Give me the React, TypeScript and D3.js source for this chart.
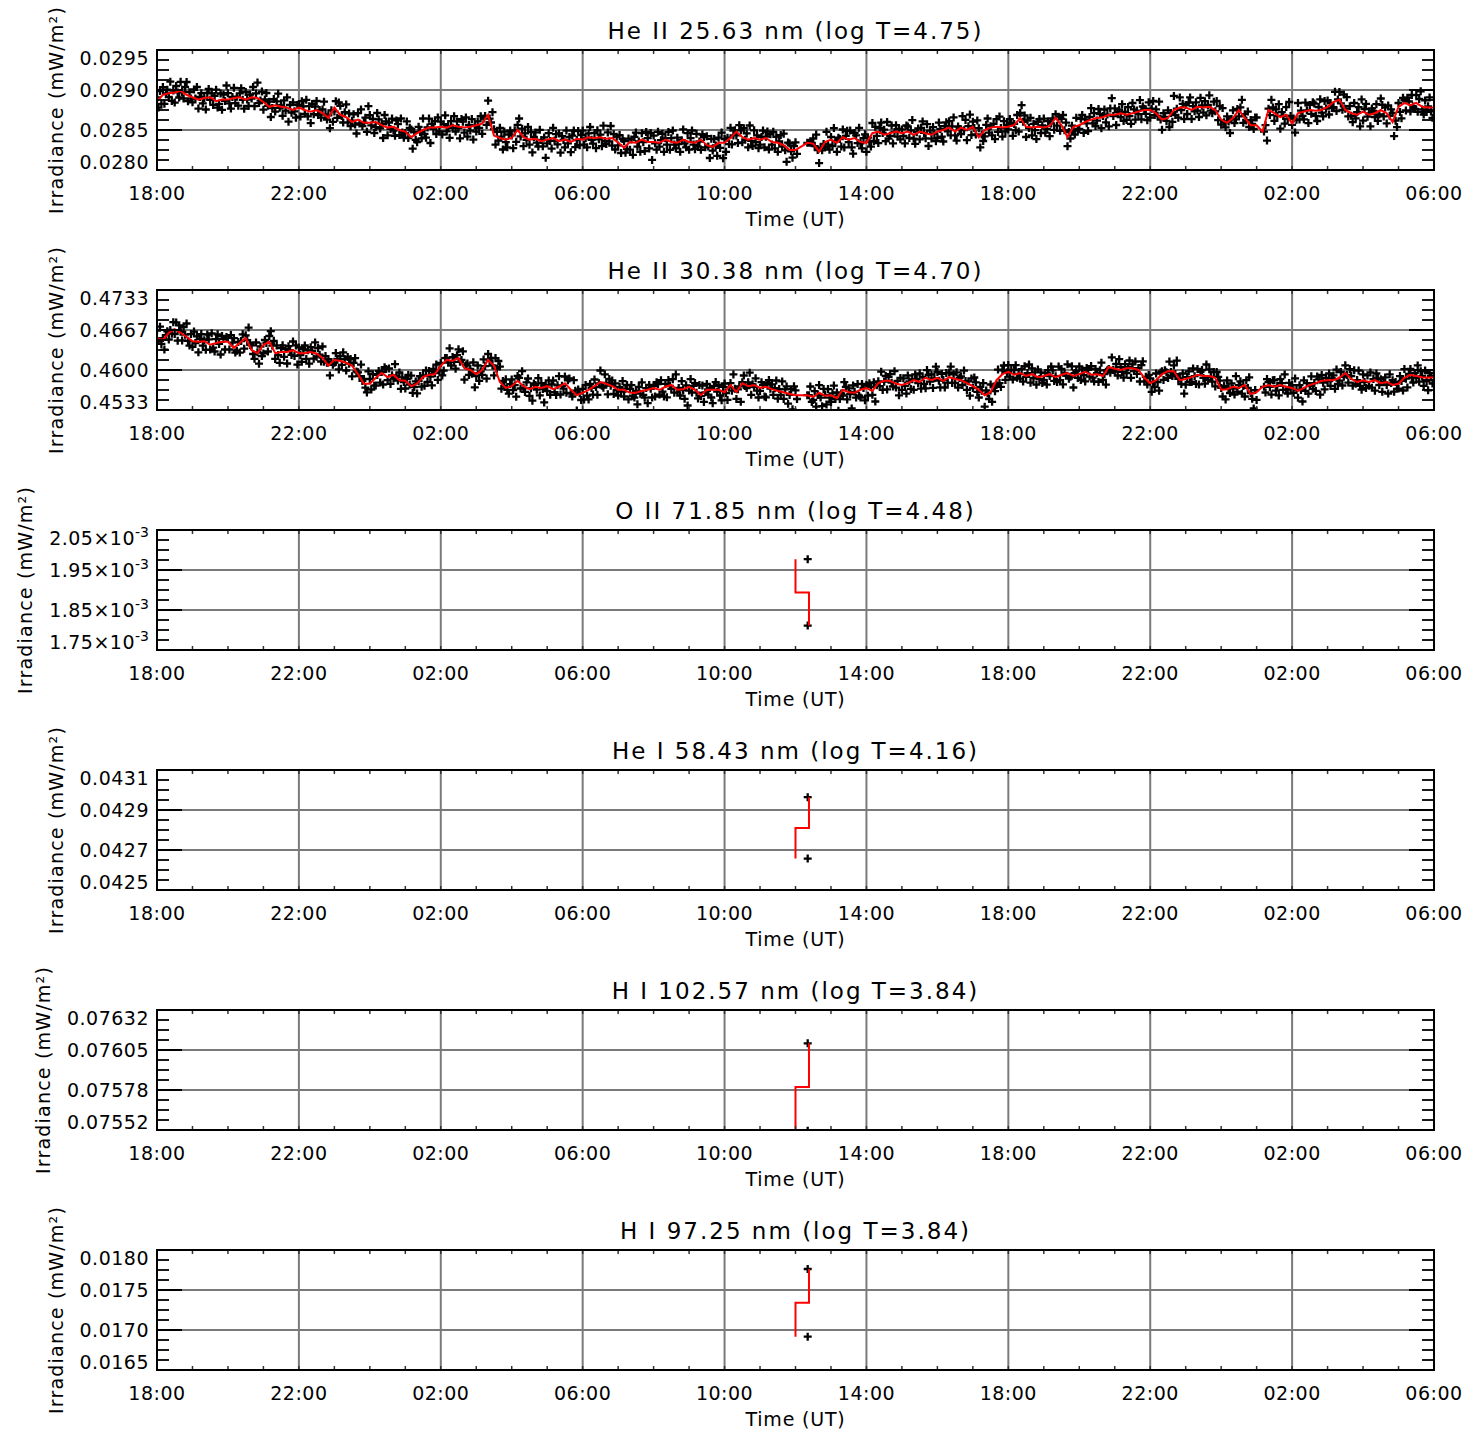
import React from "react";
import * as d3 from "d3";

// ---------- layout ----------
const W = 1481;
const H = 1435;
const PLOT_LEFT = 157;
const PLOT_RIGHT = 1434;
const PLOT_H = 120;
const FIRST_TOP = 50;
const PANEL_STEP = 240;
const FONT = '"DejaVu Sans", sans-serif';

// ---------- time axis (hours since 18:00 UT on the first day) ----------
const TIME_DOMAIN_H = [0, 36];
const TIME_TICK_HOURS = [0, 4, 8, 12, 16, 20, 24, 28, 32, 36];
const TIME_TICK_LABELS = ["18:00", "22:00", "02:00", "06:00", "10:00", "14:00", "18:00", "22:00", "02:00", "06:00"];
const RED_STEP_H = 1 / 6; // smoothed curve sampled every 10 min
const SCATTER_PER_STEP = 4; // measurements every 2.5 min
const DATA_GAPS_H = [[18.05, 18.3], [31.04, 31.2]];

// ---------- He II 25.63 nm (smoothed curve in units of 1e-5 mW/m^2, scatter offsets in units of 1.6e-5) ----------
const HE2_256_TICKS = ["0.0280", "0.0285", "0.0290", "0.0295"];
const HE2_256_DOMAIN = [0.028, 0.0295];
const HE2_256_RED = [
  2886, 2894, 2896, 2897, 2899, 2894,
  2891, 2888, 2890, 2891, 2886, 2888,
  2888, 2890, 2891, 2888, 2891, 2890,
  2885, 2879, 2881, 2879, 2878, 2875,
  2878, 2875, 2873, 2875, 2871, 2865,
  2878, 2869, 2866, 2860, 2863, 2859,
  2859, 2860, 2856, 2853, 2854, 2850,
  2848, 2841, 2846, 2850, 2853, 2853,
  2854, 2853, 2856, 2854, 2853, 2854,
  2856, 2858, 2869, 2843, 2840, 2838,
  2840, 2850, 2841, 2838, 2839, 2836,
  2838, 2840, 2836, 2838, 2835, 2839,
  2838, 2841, 2840, 2841, 2839, 2840,
  2834, 2828, 2835, 2834, 2838, 2835,
  2835, 2834, 2838, 2835, 2834, 2838,
  2835, 2834, 2838, 2831, 2829, 2834,
  2834, 2840, 2848, 2841, 2838, 2840,
  2838, 2840, 2835, 2834, 2831, 2825,
  2825, null, 2834, 2833, 2823, 2835,
  2838, 2834, 2841, 2838, 2840, 2835,
  2834, 2846, 2848, 2844, 2846, 2848,
  2846, 2848, 2844, 2848, 2846, 2844,
  2848, 2850, 2853, 2848, 2853, 2850,
  2854, 2841, 2850, 2853, 2854, 2853,
  2854, 2856, 2865, 2854, 2853, 2854,
  2853, 2855, 2865, 2856, 2841, 2854,
  2856, 2860, 2863, 2865, 2866, 2869,
  2869, 2871, 2869, 2871, 2873, 2875,
  2875, 2871, 2863, 2865, 2875, 2878,
  2878, 2875, 2879, 2878, 2879, 2875,
  2863, 2859, 2865, 2875, 2865, 2856,
  2856, 2848, 2875, 2871, 2866, 2869,
  2858, 2871, 2873, 2875, 2874, 2875,
  2879, 2885, 2888, 2875, 2871, 2869,
  2873, 2869, 2871, 2875, 2871, 2860,
  2879, 2884, 2881, 2884, 2879, 2878,
  2878,
];
const HE2_256_RES = [
  3, -5, 8, -2, 6, -7, 1, 4, -3, 9, -6, 2, -8, 5, 0, -4, 7, -1, -6, 3, 10, -5, 2, -3,
  -4, 6, -1, 8, -7, 2, 5, -3, 0, -9, 4, 7, -2, 3, -6, 1, 9, -5, -2, 6, -8, 4, -1, 11,
  5, -3, -7, 2, 8, -4, 1, -6, 3, 7, -2, -9, 6, 0, -5, 4, -1, 8, -7, 3, 12, -4, -2, 5,
  -6, 2, 7, -3, 4, -8, -1, 6, -5, 3, 9, -2, 1, -7, 5, -3, 8, -11, 2, -4, 6, -1, -6, 4,
  2, -7, 5, 1, -3, 8, -5, 3, -9, 6, -2, 4, 7, -4, 0, -6, 3, 9, -1, -5, 2, -8, 6, -3,
  -3, 5, -8, 4, 7, -1, -6, 2, 10, -4, 3, -7, 1, 6, -2, -9, 5, -3, 8, -5, 0, 4, -7, 13,
  6, -2, 3, -8, -4, 7, 2, -5, 1, -10, 8, 3, -6, 4, -1, 7, -3, -7, 5, 2, -4, 9, -2, -6,
  -1, 8, -5, 3, 6, -9, 4, -2, -7, 5, 1, -4, 9, -3, -6, 2, 7, -12, 3, -1, 5, -5, 8, -3,
  4, -6, 2, 9, -3, 1, -8, 5, -2, 7, -5, 3, -1, -9, 6, 4, -4, 8, -7, 2, -3, 6, -10, 1,
  -5, 3, -2, 7, -8, 4, 6, -1, 11, -3, -6, 2, 5, -7, 3, -4, 8, 1, -9, 5, -2, -6, 4, 7,
  2, -8, 6, -3, 4, 9, -5, 1, -7, 3, -2, 8, -4, 6, -10, 2, 5, -3, -6, 7, 1, -4, 3, -13,
  -3, 5, -1, -7, 8, -2, 3, -5, 6, -9, 4, 1, -6, 7, -3, 2, -8, 5, 9, -4, -1, 6, -5, 3,
  7, -4, 1, -6, 3, 8, -2, -5, 4, -8, 6, -1, 2, -7, 9, -3, -4, 5, -2, 10, -6, 3, -9, 1,
  -2, 6, -8, 3, 5, -4, -1, 7, -6, 2, -10, 4, 8, -3, 1, -7, 5, -2, -9, 6, 3, -5, 7, -14,
  5, -1, -6, 8, -3, 2, 7, -7, 1, -4, 6, -8, 3, 9, -2, -5, 4, -1, -7, 2, 8, -3, -6, 5,
  -6, 3, 9, -2, -5, 7, -3, 1, -8, 4, 2, -6, 7, -1, -10, 5, -3, 6, 1, -7, 4, -4, 8, -12,
  3, -7, 4, -1, 8, -5, 2, 6, -3, -9, 5, 1, -4, 7, -2, 3, -6, 11, -1, -5, 6, -3, 2, -8,
  -4, 2, 7, -6, 1, 5, -9, 3, -2, 8, -5, 4, -7, 1, 6, -3, 9, -4, -13, 2, 5, -1, -6, 3,
  6, -3, 5, -8, 0, 0, 0, 0, 0, 0, 0, 0, 4, -2, 7, -5, -9, 3, 1, 6, -4, 8, -2, -6,
  2, -5, 9, -1, -7, 4, 3, -3, 6, -8, 1, 5, -2, 7, -6, -11, 4, 2, -4, 8, -1, -5, 3, 6,
  -7, 4, 1, -3, 8, -6, 5, -2, -9, 3, 7, -1, 4, -5, 10, -3, -2, 6, -8, 1, 5, -4, 2, -6,
  3, -2, -8, 6, 4, -5, 1, 9, -3, -7, 2, 5, -6, 3, 8, -1, -4, 7, -10, 2, -3, 6, 1, -5,
  -5, 7, 2, -4, -9, 3, 6, -1, 5, -6, 1, 8, -3, -7, 4, 2, -5, 9, -2, 6, -8, 3, 12, -4,
  4, -1, -6, 5, 7, -8, 2, -3, -5, 4, 9, -2, 1, -6, 3, -9, 6, -4, 8, -1, -7, 5, -3, 2,
  -2, 6, 3, -7, 1, -4, 8, -5, 4, 10, -3, 2, -8, 5, -1, 7, -6, 3, -2, -9, 4, 6, -5, 1,
  7, -4, -1, 5, -8, 2, 6, -3, 3, -6, 1, -10, 5, 8, -4, 2, -7, 4, -1, 9, -3, -6, 7, -2,
  -3, 5, 8, -6, 2, -1, -7, 4, 9, -3, 5, -5, -2, 7, 3, -8, 1, 6, -4, 2, -9, 5, 13, -1,
  5, -8, 2, 4, -3, 7, -6, 1, -4, 6, -1, -7, 8, 3, -5, 2, -2, 9, -6, 4, 1, -3, -8, 6,
  -6, 1, 7, -4, 3, -2, 9, -5, -8, 5, 2, -1, 6, -7, 4, -3, 11, -4, 1, -6, 8, -2, 3, -9,
  2, -5, 4, 8, -7, 3, -1, 6, -3, -8, 7, 1, -4, 5, -6, 2, 9, -3, -5, 4, -1, 7, -8, 3,
  -4, 9, -2, -6, 5, 1, -8, 3, 6, -4, -1, 7, -5, 2, 8, -10, 3, -2, 5, -7, 4, 1, -3, 6,
  6, -3, 0, 0, 0, 0, 5, -7, 1, -4, 8, 2, -6, 3, -2, 7, -9, 4, 1, -5, 6, -3, 10, -1,
  -1, 4, -7, 3, 8, -5, 2, -2, -6, 7, 1, -9, 4, -3, 6, 5, -4, -8, 3, 9, -2, -5, 7, 1,
  5, -6, 3, -1, -4, 8, -7, 2, 6, -3, -8, 4, 1, 10, -5, 3, -2, -7, 8, -4, 2, 6, -9, 12,
  -7, 2, 6, -4, 1, -9, 5, 3, -3, 7, -6, -1, 9, 4, -5, 2, -8, 6, -2, 3, 7, -11, 1, -4,
  3, -4, -9, 7, 2, -6, 4, 1, -5, 8, -1, -3, 6, -7, 3, 9, -2, -6, 5, -4, 1, 8, -3, -8,
];

// ---------- He II 30.38 nm (smoothed curve in units of 1e-4 mW/m^2, scatter offsets in units of 1.6e-4) ----------
const HE2_304_TICKS = ["0.4533", "0.4600", "0.4667", "0.4733"];
const HE2_304_DOMAIN = [0.45333, 0.47333];
const HE2_304_RED = [
  4653, 4650, 4662, 4668, 4662, 4655,
  4648, 4647, 4648, 4642, 4645, 4647,
  4647, 4637, 4645, 4653, 4633, 4628,
  4642, 4647, 4628, 4630, 4630, 4633,
  4628, 4628, 4630, 4627, 4620, 4607,
  4617, 4615, 4612, 4607, 4593, 4577,
  4577, 4587, 4595, 4588, 4592, 4583,
  4582, 4573, 4577, 4588, 4592, 4593,
  4607, 4617, 4615, 4620, 4603, 4600,
  4593, 4600, 4617, 4607, 4580, 4570,
  4573, 4582, 4573, 4568, 4572, 4570,
  4573, 4568, 4572, 4578, 4567, 4558,
  4562, 4567, 4573, 4580, 4577, 4573,
  4567, 4567, 4562, 4562, 4565, 4567,
  4570, 4567, 4572, 4575, 4567, 4568,
  4572, 4567, 4558, 4567, 4567, 4567,
  4563, 4575, 4563, 4578, 4573, 4575,
  4570, 4572, 4568, 4565, 4563, 4560,
  4558, null, 4558, 4555, 4562, 4557,
  4558, 4553, 4567, 4563, 4562, 4567,
  4570, 4565, 4578, 4582, 4582, 4577,
  4575, 4578, 4583, 4580, 4587, 4583,
  4587, 4582, 4588, 4585, 4583, 4578,
  4573, 4567, 4558, 4563, 4583, 4593,
  4597, 4592, 4595, 4590, 4593, 4588,
  4590, 4593, 4588, 4592, 4595, 4590,
  4593, 4597, 4592, 4593, 4590, 4605,
  4602, 4600, 4603, 4603, 4600, 4587,
  4578, 4583, 4593, 4598, 4598, 4583,
  4585, 4588, 4592, 4590, 4590, 4587,
  4567, 4568, 4572, 4570, 4575, 4560,
  4563, 4572, 4575, 4572, 4575, 4572,
  4570, 4565, 4570, 4575, 4578, 4582,
  4583, 4583, 4587, 4595, 4585, 4580,
  4583, 4580, 4583, 4578, 4580, 4575,
  4577, 4587, 4592, 4590, 4588, 4587,
  4588,
];
const HE2_304_RES = [
  8, -3, 12, -6, 2, -10, 5, 9, -7, 3, -1, 11, -5, 7, -12, 4, 1, -8, 6, -2, 14, -4, -9, 3,
  -6, 10, -2, 5, -11, 3, 8, -4, 1, -9, 7, 2, -5, 12, -3, -7, 4, 9, -1, -12, 6, 3, -8, 5,
  4, -8, 7, -1, 10, -5, -3, 6, -10, 2, 9, -6, 3, -2, 11, -7, 5, -4, -9, 8, 1, -11, 7, -3,
  -9, 5, 2, -7, 6, 11, -4, 1, -6, 8, -2, -10, 4, 7, -5, 3, -12, 6, 2, -3, 9, -6, 5, -15,
  6, -2, -9, 4, 8, -6, 3, -11, 5, 1, -7, 10, -3, 6, -1, -8, 12, -4, 2, -5, 7, -10, 4, 1,
  -3, 7, 1, -10, 5, -4, 9, 2, -8, 6, -1, 4, -11, 3, 8, -6, 2, -2, 10, -7, 5, -4, -9, 13,
  5, -6, 10, -2, -8, 3, 7, -5, 1, -12, 6, 4, -3, 9, -7, 2, -4, 11, -1, -6, 8, -9, 3, -2,
  -8, 2, 6, -4, 11, -7, -1, 5, -10, 3, 8, -3, 2, -9, 7, -5, 4, -2, -11, 6, 1, 10, -6, 4,
  3, -10, -5, 8, 2, -3, 12, -6, 4, -1, -8, 6, 9, -4, -2, 7, -12, 3, 5, -7, 1, -4, 8, -18,
  -2, 9, -7, 3, -5, 11, 4, -9, 6, -1, 2, -6, -10, 8, -3, 5, 16, -7, 1, -4, 9, -2, -6, 4,
  7, -4, 1, -11, 5, 3, -8, 10, -2, -6, 4, 8, -7, 1, -12, 6, 2, -3, 9, -9, 5, -1, -15, 3,
  -5, 6, -9, 2, 9, -3, -6, 4, 11, -8, 1, -2, 7, -10, 3, 5, -4, -7, 10, -1, -16, 6, 2, -5,
  4, -7, 8, -3, -10, 6, 2, -5, 7, -1, -9, 3, 12, -4, -6, 8, 1, -11, 5, -2, 6, -8, 3, -4,
  -6, 3, -2, 9, -7, 1, 5, -10, 4, 8, -3, -5, 2, -12, 6, -1, 9, -4, -7, 3, -14, 5, 1, -8,
  2, -9, 6, 4, -5, 10, -2, -7, 3, -11, 7, 1, -4, 6, -8, 11, -3, 2, -6, 9, -1, -10, 4, -17,
  -4, 8, -6, 1, 7, -3, -9, 5, -1, 10, -7, 3, 6, -5, 2, -8, -14, 4, 8, -2, 5, -6, -11, 3,
  9, -1, -8, 5, 2, -6, 11, -4, -7, 3, 6, -10, 1, 8, -3, -5, 4, 14, -9, 2, -2, 7, -6, -13,
  -3, 6, 3, -9, -11, 4, 7, -2, 5, -6, 1, 9, -8, 2, -4, 10, -7, 3, 6, -12, -1, 5, -16, 8,
  5, -4, 0, 0, 0, 0, 0, 0, 0, 0, 9, -7, -3, 6, -10, 2, 8, -5, -14, 4, 1, -9, 7, -2,
  -7, 2, 10, -4, 6, -13, -1, 5, -6, 8, 3, -10, 4, -2, -17, 7, 1, -5, 9, -3, -8, 6, 2, -11,
  3, -8, 5, 1, -4, 9, -11, 6, 2, -3, 12, -7, -1, 5, -9, 4, 7, -2, -6, 10, -4, 3, -12, 6,
  -5, 7, -1, -9, 8, 2, -6, 4, -10, 6, 1, -3, 9, -7, 5, -2, -11, 8, 3, -4, 6, -8, 2, 14,
  6, -3, -10, 4, 1, -7, 8, -2, 5, 11, -6, 3, -4, 7, -9, 1, 4, -5, 10, -1, -7, 2, -13, 5,
  -2, 9, 4, -6, -8, 3, -1, 7, -12, 5, 2, -4, 8, -10, 6, 1, -5, 11, -3, -7, 4, 9, -6, 2,
  7, -5, 2, -8, 5, 10, -3, 1, -6, 4, -9, 7, -1, 3, 12, -7, 6, -4, 2, -11, 8, -2, 5, -6,
  -4, 3, -9, 6, -2, 8, 4, -7, 1, -5, 11, -3, 6, -10, 2, -1, 9, -6, -4, 7, -12, 3, 5, -2,
  8, -6, 5, -1, -10, 4, 2, -5, 9, -3, -7, 6, 1, -8, 4, 12, -4, 2, -9, 6, -2, -6, 10, -3,
  -3, 5, -7, 10, 3, -2, -8, 6, -5, 1, 8, -10, 4, -3, 7, -6, 2, -12, 5, 9, -4, 1, -7, 3,
  5, -9, 1, -4, 7, -2, -11, 8, 3, -6, 4, 2, -7, 10, -1, -5, 6, -3, 11, -8, 2, -4, 7, -14,
  -6, 2, 8, -3, -5, 9, 1, -7, 6, -10, 3, 5, -2, -8, 12, -4, 7, -1, -6, 4, -9, 6, 1, -3,
  2, -7, 4, -10, 9, 1, -4, 6, -2, -8, 11, -5, 3, 7, -6, 2, -12, 5, -3, 8, 1, -5, -15, 4,
  -8, 4, 0, 0, 0, 0, -6, 8, 3, -2, -10, 5, 7, -4, 1, -9, 6, 2, -5, 11, -3, -7, 4, -1,
  3, -5, 10, -2, -7, 6, 1, -11, 8, -3, 5, -6, -1, 9, -4, 2, -8, 7, 4, -12, 6, -2, -9, 3,
  -1, 7, -6, 2, 5, -9, 11, -4, -3, 6, -8, 1, 8, -2, -10, 4, 3, -7, 9, -5, 2, 12, -4, -8,
  6, -2, -8, 5, -4, 10, -6, 3, -11, 7, 2, -5, 4, -9, 1, 6, -3, -12, 8, -1, 5, -7, 3, -4,
  -5, 8, 3, -7, 9, -1, -10, 4, 6, -3, -8, 2, -2, 11, -6, 5, 1, -9, 7, -4, -13, 5, 2, -6,
];

// ---------- sparse lines (two measurements near 12:20 UT) ----------
const SPARSE_POINT_TIMES_H = [18.345, 18.345];
const SPARSE_RED_TIMES_H = [18.0, 18.0, 18.38, 18.38];

const O2_TICKS = ["1.75×10^-3", "1.85×10^-3", "1.95×10^-3", "2.05×10^-3"];
const O2_DOMAIN = [1.75e-3, 2.05e-3];
const O2_POINTS = [1.977e-3, 1.811e-3];
const O2_RED = [1.977e-3, 1.894e-3, 1.894e-3, 1.811e-3];

const HE1_TICKS = ["0.0425", "0.0427", "0.0429", "0.0431"];
const HE1_DOMAIN = [0.0425, 0.0431];
const HE1_POINTS = [0.042964, 0.042657];
const HE1_RED = [0.042657, 0.04281, 0.04281, 0.042964];

const HI1026_TICKS = ["0.07552", "0.07578", "0.07605", "0.07632"];
const HI1026_DOMAIN = [0.07552, 0.07632];
const HI1026_POINTS = [0.076098, 0.075515];
const HI1026_RED = [0.075515, 0.075807, 0.075807, 0.076098];

const HI973_TICKS = ["0.0165", "0.0170", "0.0175", "0.0180"];
const HI973_DOMAIN = [0.0165, 0.018];
const HI973_POINTS = [0.017763, 0.016916];
const HI973_RED = [0.016916, 0.01734, 0.01734, 0.017763];

const PANELS = [
  { title: "He II 25.63 nm (log T=4.75)", domain: HE2_256_DOMAIN, ticks: HE2_256_TICKS, red: HE2_256_RED, res: HE2_256_RES, unit: 1e-5, resUnit: 1.6e-5 },
  { title: "He II 30.38 nm (log T=4.70)", domain: HE2_304_DOMAIN, ticks: HE2_304_TICKS, red: HE2_304_RED, res: HE2_304_RES, unit: 1e-4, resUnit: 1.6e-4 },
  { title: "O II 71.85 nm (log T=4.48)", domain: O2_DOMAIN, ticks: O2_TICKS, points: O2_POINTS, sparseRed: O2_RED },
  { title: "He I 58.43 nm (log T=4.16)", domain: HE1_DOMAIN, ticks: HE1_TICKS, points: HE1_POINTS, sparseRed: HE1_RED },
  { title: "H I 102.57 nm (log T=3.84)", domain: HI1026_DOMAIN, ticks: HI1026_TICKS, points: HI1026_POINTS, sparseRed: HI1026_RED },
  { title: "H I 97.25 nm (log T=3.84)", domain: HI973_DOMAIN, ticks: HI973_TICKS, points: HI973_POINTS, sparseRed: HI973_RED },
];

const TICK_FS = 19;
const TICK_LS = 0.5;
const SUP_FS = 14;

let measureCtx: CanvasRenderingContext2D | null = null;
function textWidth(s: string, size: number, ls: number) {
  if (!measureCtx) measureCtx = document.createElement("canvas").getContext("2d");
  if (!measureCtx) return s.length * size * 0.6;
  measureCtx.font = `${size}px "DejaVu Sans"`;
  return measureCtx.measureText(s).width + ls * s.length;
}
function labelWidth(label: string) {
  const [main, sup] = label.split("^");
  return textWidth(main, TICK_FS, TICK_LS) + (sup ? textWidth(sup, SUP_FS, 0) : 0);
}

function Panel({ cfg, index }: { cfg: any; index: number }) {
  const top = FIRST_TOP + index * PANEL_STEP;
  const bottom = top + PLOT_H;
  const x = d3.scaleLinear().domain(TIME_DOMAIN_H).range([PLOT_LEFT, PLOT_RIGHT]);
  const y = d3.scaleLinear().domain(cfg.domain).range([bottom, top]);
  const [lo, hi] = cfg.domain;
  const tickVals = d3.range(4).map((i) => lo + ((hi - lo) * i) / 3);
  const minorVals = d3.range(1, 12).map((i) => lo + ((hi - lo) * i) / 12);
  const hourTicks = d3.range(1, 36);

  let pts: [number, number][] = [];
  let redPts: [number, number][] = [];
  if (cfg.red) {
    cfg.red.forEach((r: number | null, i: number) => {
      if (r == null) return;
      redPts.push([i * RED_STEP_H, r * cfg.unit]);
      if (i >= cfg.red.length - 1) return;
      for (let j = 0; j < SCATTER_PER_STEP; j++) {
        const t = (i + j / SCATTER_PER_STEP) * RED_STEP_H;
        if (DATA_GAPS_H.some(([a, b]) => t > a && t < b)) continue;
        const res = cfg.res[i * SCATTER_PER_STEP + j];
        pts.push([t, r * cfg.unit + res * cfg.resUnit]);
      }
    });
  } else {
    pts = cfg.points.map((v: number, i: number) => [SPARSE_POINT_TIMES_H[i], v]);
    redPts = cfg.sparseRed.map((v: number, i: number) => [SPARSE_RED_TIMES_H[i], v]);
  }
  const a = 4;
  const plusPath = pts
    .map(([t, v]) => {
      const px = x(t);
      const py = y(v);
      return `M${(px - a).toFixed(1)},${py.toFixed(1)}h${2 * a}M${px.toFixed(1)},${(py - a).toFixed(1)}v${2 * a}`;
    })
    .join("");
  const line = d3
    .line<[number, number]>()
    .x((d) => x(d[0]))
    .y((d) => y(d[1]));

  const maxLab = Math.max(...cfg.ticks.map((s: string) => labelWidth(s)));
  const yTitleX = PLOT_LEFT - 8 - maxLab - 17;
  const clipId = `clip${index}`;
  const gridColor = "#7a7a7a";

  return (
    <g>
      <defs>
        <clipPath id={clipId}>
          <rect x={PLOT_LEFT} y={top} width={PLOT_RIGHT - PLOT_LEFT} height={PLOT_H} />
        </clipPath>
      </defs>
      {TIME_TICK_HOURS.slice(1, -1).map((h) => (
        <line key={"gx" + h} x1={x(h)} x2={x(h)} y1={top} y2={bottom} stroke={gridColor} strokeWidth={2} />
      ))}
      {tickVals.slice(1, 3).map((v, i) => (
        <line key={"gy" + i} x1={PLOT_LEFT} x2={PLOT_RIGHT} y1={y(v)} y2={y(v)} stroke={gridColor} strokeWidth={2} />
      ))}
      <g clipPath={`url(#${clipId})`}>
        <path d={plusPath} stroke="#000" strokeWidth={2.3} fill="none" />
        <path d={line(redPts) || ""} stroke="#ff0000" strokeWidth={2} fill="none" strokeLinejoin="miter" />
      </g>
      {minorVals.map((v, i) => (
        <g key={"my" + i}>
          <line x1={PLOT_LEFT} x2={PLOT_LEFT + 12} y1={y(v)} y2={y(v)} stroke="#000" strokeWidth={1.8} />
          <line x1={PLOT_RIGHT - 12} x2={PLOT_RIGHT} y1={y(v)} y2={y(v)} stroke="#000" strokeWidth={1.8} />
        </g>
      ))}
      {tickVals.slice(1, 3).map((v, i) => (
        <g key={"My" + i}>
          <line x1={PLOT_LEFT} x2={PLOT_LEFT + 25} y1={y(v)} y2={y(v)} stroke="#000" strokeWidth={2} />
          <line x1={PLOT_RIGHT - 25} x2={PLOT_RIGHT} y1={y(v)} y2={y(v)} stroke="#000" strokeWidth={2} />
        </g>
      ))}
      {hourTicks.map((h) => (
        <g key={"mx" + h}>
          <line x1={x(h)} x2={x(h)} y1={top} y2={top + 4} stroke="#333" strokeWidth={1.5} />
          <line x1={x(h)} x2={x(h)} y1={bottom - 4} y2={bottom} stroke="#333" strokeWidth={1.5} />
        </g>
      ))}
      <rect x={PLOT_LEFT} y={top} width={PLOT_RIGHT - PLOT_LEFT} height={PLOT_H} fill="none" stroke="#000" strokeWidth={2} />
      {tickVals.map((v, i) => {
        const [main, sup] = cfg.ticks[i].split("^");
        const base = Math.min(Math.max(y(v) + 7, top + 14.5), bottom - 1);
        return (
          <text key={"yl" + i} x={PLOT_LEFT - 8} y={base} textAnchor="end" fontSize={TICK_FS} fontFamily={FONT} style={{ letterSpacing: `${TICK_LS}px` }} fill="#000">
            {main}
            {sup ? (
              <tspan fontSize={SUP_FS} dy={-8} style={{ letterSpacing: "0px" }}>
                {sup}
              </tspan>
            ) : null}
          </text>
        );
      })}
      {TIME_TICK_HOURS.map((h, i) => (
        <text key={"xl" + i} x={x(h)} y={bottom + 30} textAnchor="middle" fontSize={TICK_FS} fontFamily={FONT} style={{ letterSpacing: `${TICK_LS}px` }} fill="#000">
          {TIME_TICK_LABELS[i]}
        </text>
      ))}
      <text x={(PLOT_LEFT + PLOT_RIGHT) / 2} y={bottom + 56} textAnchor="middle" fontSize={TICK_FS} fontFamily={FONT} style={{ letterSpacing: "0.8px" }} fill="#000">
        Time (UT)
      </text>
      <text x={(PLOT_LEFT + PLOT_RIGHT) / 2} y={top - 11} textAnchor="middle" fontSize={23} fontFamily={FONT} style={{ letterSpacing: "2px" }} fill="#000">
        {cfg.title}
      </text>
      <text
        transform={`translate(${yTitleX},${top + PLOT_H / 2}) rotate(-90)`}
        textAnchor="middle"
        fontSize={TICK_FS}
        fontFamily={FONT}
        style={{ letterSpacing: "1.2px" }}
        fill="#000"
      >
        Irradiance (mW/m²)
      </text>
    </g>
  );
}

export default function App() {
  return (
    <svg width={W} height={H} viewBox={`0 0 ${W} ${H}`} style={{ position: "absolute", left: 0, top: 0, background: "#fff" }}>
      <rect x={0} y={0} width={W} height={H} fill="#fff" />
      {PANELS.map((p, i) => (
        <Panel key={i} cfg={p} index={i} />
      ))}
    </svg>
  );
}
